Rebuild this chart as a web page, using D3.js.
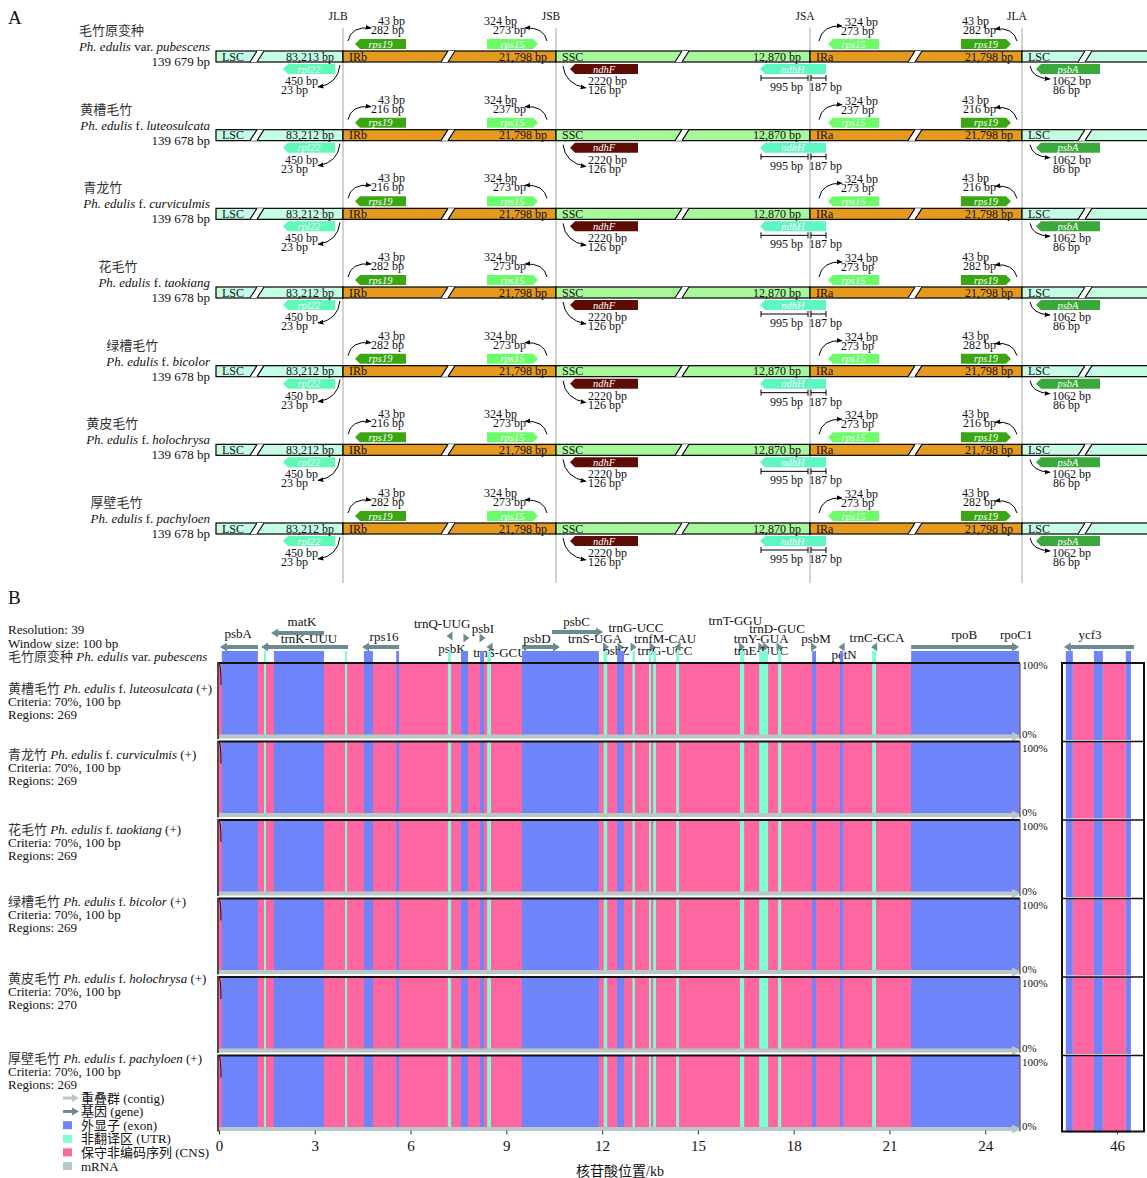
<!DOCTYPE html>
<html><head><meta charset="utf-8">
<script src="https://cdn.jsdelivr.net/npm/d3@7"></script>
<style>
body{margin:0;background:#fff}
svg{display:block}
text{font-family:"Liberation Serif","Noto Sans CJK SC",serif;fill:#111}
</style>
</head><body><svg id="c" width="1147" height="1178"></svg>
<script>
// ================= DATA: Panel A =================
const speciesCN = ["毛竹原变种","黄槽毛竹","青龙竹","花毛竹","绿槽毛竹","黄皮毛竹","厚壁毛竹"];
const speciesGenus = ["Ph. edulis","Ph. edulis","Ph. edulis","Ph. edulis","Ph. edulis","Ph. edulis","Ph. edulis"];
const speciesRank = ["var.","f.","f.","f.","f.","f.","f."];
const speciesEpithet = ["pubescens","luteosulcata","curviculmis","taokiang","bicolor","holochrysa","pachyloen"];
const genomeSize = ["139 679 bp","139 678 bp","139 678 bp","139 678 bp","139 678 bp","139 678 bp","139 678 bp"];
const lscSize = ["83,213 bp","83,212 bp","83,212 bp","83,212 bp","83,212 bp","83,212 bp","83,212 bp"];
const irSize  = ["21,798 bp","21,798 bp","21,798 bp","21,798 bp","21,798 bp","21,798 bp","21,798 bp"];
const sscSize = ["12,870 bp","12,870 bp","12,870 bp","12,870 bp","12,870 bp","12,870 bp","12,870 bp"];
const regionNames = ["LSC","IRb","SSC","IRa","LSC"];
const junctionNames = ["JLB","JSB","JSA","JLA"];
const rps19Out = [43,43,43,43,43,43,43];
const rps19In  = [282,216,216,282,282,216,282];
const rps15Out = [324,324,324,324,324,324,324];
const rps15In  = [273,237,273,273,273,273,273];
const rpl22Len = [450,450,450,450,450,450,450];
const rpl22Gap = [23,23,23,23,23,23,23];
const ndhFLen  = [2220,2220,2220,2220,2220,2220,2220];
const ndhFGap  = [126,126,126,126,126,126,126];
const ndhHSSC  = [995,995,995,995,995,995,995];
const ndhHIR   = [187,187,187,187,187,187,187];
const psbALen  = [1062,1062,1062,1062,1062,1062,1062];
const psbAGap  = [86,86,86,86,86,86,86];

// ================= DATA: Panel B =================
const trackRegions = [269,269,269,269,270,269];
const exonStart = [0.09,1.72,4.54,5.55,7.58,8.18,9.49,12.47,18.58,19.45,21.68];
const exonEnd   = [1.22,3.29,4.82,5.64,7.80,8.30,11.90,12.69,18.70,19.55,25.06];
const utrStart  = [1.41,3.95,7.17,8.40,12.05,12.95,13.47,13.60,14.32,16.32,16.92,17.51,20.46];
const utrEnd    = [1.47,4.01,7.27,8.52,12.16,13.03,13.53,13.69,14.41,16.45,17.20,17.61,20.58];
const cnsStart  = [0];
const cnsEnd    = [25.09];
const geneNames  = ["psbA","matK","trnK-UUU","rps16","trnQ-UUG","psbK","psbI","trnS-GCU","psbD","psbC","trnS-UGA","psbZ","trnG-UCC","trnG-UCC","trnfM-CAU","trnT-GGU","trnY-GUA","trnE-UUC","trnD-GUC","psbM","petN","trnC-GCA","rpoB","rpoC1"];
const geneStart  = [0.03,1.63,1.32,4.48,7.17,7.61,8.18,8.43,9.49,10.43,12.09,12.47,12.94,13.47,14.32,16.32,16.92,17.07,17.51,18.58,19.45,20.46,21.68,25.06];
const geneEnd    = [1.22,3.29,4.04,5.64,7.27,7.89,8.33,8.52,10.68,12.03,12.16,12.69,13.03,13.69,14.41,16.45,17.05,17.20,17.61,18.70,19.55,20.58,25.06,25.06];
const geneStrand = ["-","-","-","-","-","+","+","-","+","+","+","+","+","+","-","+","+","+","+","+","-","-","+","+"];
const geneLabelKb= [0.6,2.6,2.82,5.17,6.99,7.3,8.27,8.8,9.96,11.2,11.78,12.44,13.06,13.97,13.97,16.17,16.98,16.98,17.48,18.7,19.58,20.61,23.34,24.97];
// second panel (ycf3)
const ycf3ExonStart = [44.40,45.28,46.28];
const ycf3ExonEnd   = [44.62,45.56,46.44];
const ycf3CnsStart  = [44.62,45.56];
const ycf3CnsEnd    = [45.28,46.28];
const ycf3Gene = {name:"ycf3", start:44.34, end:46.54, strand:"-", labelKb:45.16};
const xTicksMain = [0,3,6,9,12,15,18,21,24];
const xTicksSecond = [46];
const legendLabels = ["重叠群 (contig)","基因 (gene)","外显子 (exon)","非翻译区 (UTR)","保守非编码序列 (CNS)","mRNA"];

// ================= STYLE / LAYOUT =================
const C = {
  lsc:"#c4fde4", ir:"#e39a1e", ssc:"#a8f79b",
  rps19:"#3aa614", rps15:"#6cfc6a", rpl22:"#5ffab8", ndhF:"#5e0d05", ndhH:"#5ef7c0", psbA:"#3aa83a",
  exon:"#6e84fb", cns:"#fd66a0", utr:"#80fcd3", contig:"#b9c7c6", gene:"#6b8b93", mrna:"#b7cac7"
};
const svg = d3.select("#c");
const defs = svg.append("defs");
defs.append("marker").attr("id","ah").attr("viewBox","0 0 10 10").attr("refX",9).attr("refY",5)
  .attr("markerWidth",6).attr("markerHeight",6).attr("markerUnits","userSpaceOnUse").attr("orient","auto")
  .append("path").attr("d","M0,1 L10,5 L0,9 Z").attr("fill","#000");

// ---------- Panel A ----------
svg.append("text").attr("x",8).attr("y",24).attr("font-size",19).text("A");
const yA = d3.scaleLinear().domain([0,6]).range([51,523]);
const barH = 11;
const bounds = [0,127,340,594,806,940];
const xA = d3.scaleLinear().domain([0,931]).range([216,1147]);
const regionColors = [C.lsc,C.ir,C.ssc,C.ir,C.lsc];
const jx = [1,2,3,4].map(k=>xA(bounds[k]));
const hatchU = [34,225,459,692,862];

const gA = svg.append("g");
jx.forEach((x,k)=>{
  gA.append("line").attr("x1",x).attr("x2",x).attr("y1",28).attr("y2",583).attr("stroke","#b4b4b4").attr("stroke-width",1.2);
  gA.append("text").attr("x",x-5).attr("y",20).attr("text-anchor","middle").attr("font-size",11.5).text(junctionNames[k]);
});

function pent(x0,x1,y0,h,dir){
  const p=5;
  if(dir==="L") return `M${x0},${y0+h/2}L${x0+p},${y0}L${x1},${y0}L${x1},${y0+h}L${x0+p},${y0+h}Z`;
  return `M${x0},${y0}L${x1-p},${y0}L${x1},${y0+h/2}L${x1-p},${y0+h}L${x0},${y0+h}Z`;
}
function geneA(g,x0,x1,y0,dir,fill,name){
  g.append("path").attr("d",pent(x0,x1,y0,10,dir)).attr("fill",fill);
  g.append("text").attr("x",(x0+x1)/2).attr("y",y0+8.5).attr("text-anchor","middle")
    .attr("font-size",10.5).attr("font-style","italic").style("fill","#fff").text(name);
}
function lbl(g,x,y,t){ g.append("text").attr("x",x).attr("y",y).attr("font-size",12).text(t); }
function curve(g,d){ g.append("path").attr("d",d).attr("fill","none").attr("stroke","#000").attr("stroke-width",1).attr("marker-end","url(#ah)"); }

speciesCN.forEach((cn,i)=>{
  const bt = yA(i), bb = bt+barH;
  const g = svg.append("g");
  const lt = g.append("text").attr("x",210).attr("y",bt).attr("text-anchor","end").attr("font-size",13);
  lt.append("tspan").attr("font-style","italic").text(speciesGenus[i]+" ");
  lt.append("tspan").text(speciesRank[i]+" ");
  lt.append("tspan").attr("font-style","italic").text(speciesEpithet[i]);
  const lw = lt.node().getComputedTextLength();
  g.append("text").attr("x",210-lw).attr("y",bt-16).attr("font-size",13).style("fill","#333").text(cn);
  g.append("text").attr("x",210).attr("y",bt+15).attr("text-anchor","end").attr("font-size",13).text(genomeSize[i]);
  regionNames.forEach((r,k)=>{
    g.append("rect").attr("x",xA(bounds[k])).attr("y",bt).attr("width",xA(bounds[k+1])-xA(bounds[k])).attr("height",barH)
      .attr("fill",regionColors[k]).attr("stroke","#000").attr("stroke-width",1.2);
    const hx = xA(hatchU[k]);
    g.append("path").attr("d",`M${hx},${bb}L${hx+7},${bt}L${hx+14},${bt}L${hx+7},${bb}Z`).attr("fill","#fff");
    g.append("path").attr("d",`M${hx},${bb}L${hx+7},${bt}M${hx+7},${bb}L${hx+14},${bt}`).attr("stroke","#000").attr("stroke-width",1.1);
    g.append("text").attr("x",xA(bounds[k])+6).attr("y",bt+9.5).attr("font-size",12).text(r);
  });
  const sizes=[lscSize[i],irSize[i],sscSize[i],irSize[i]];
  sizes.forEach((s,k)=>{
    g.append("text").attr("x",xA(bounds[k+1])-9).attr("y",bt+9.5).attr("text-anchor","end").attr("font-size",12).text(s);
  });
  geneA(g,jx[0]+12,jx[0]+63,bt-12,"L",C.rps19,"rps19");
  geneA(g,jx[1]-69,jx[1]-18,bt-12,"R",C.rps15,"rps15");
  geneA(g,jx[2]+18,jx[2]+69,bt-12,"L",C.rps15,"rps15");
  geneA(g,jx[3]-61,jx[3]-11,bt-12,"R",C.rps19,"rps19");
  geneA(g,jx[0]-60,jx[0]-8,bb+2,"L",C.rpl22,"rpl22");
  geneA(g,jx[1]+14,jx[1]+82,bb+2,"L",C.ndhF,"ndhF");
  geneA(g,jx[2]-50,jx[2]+16,bb+2,"L",C.ndhH,"ndhH");
  geneA(g,jx[3]+14,jx[3]+78,bb+2,"L",C.psbA,"psbA");
  curve(g,`M${jx[0]+5},${bt-10}Q${jx[0]+8},${bt-25} ${jx[0]+28},${bt-23}`);
  lbl(g,jx[0]+35,bt-26,rps19Out[i]+" bp"); lbl(g,jx[0]+28,bt-17,rps19In[i]+" bp");
  curve(g,`M${jx[1]-9},${bt-10}Q${jx[1]-12},${bt-24} ${jx[1]-31},${bt-23}`);
  lbl(g,jx[1]-72,bt-26,rps15Out[i]+" bp"); lbl(g,jx[1]-63,bt-17,rps15In[i]+" bp");
  curve(g,`M${jx[2]+9},${bt-10}Q${jx[2]+12},${bt-26} ${jx[2]+32},${bt-25}`);
  lbl(g,jx[2]+35,bt-25,rps15Out[i]+" bp"); lbl(g,jx[2]+31,bt-16,rps15In[i]+" bp");
  curve(g,`M${jx[3]-5},${bt-10}Q${jx[3]-9},${bt-24} ${jx[3]-27},${bt-22}`);
  lbl(g,jx[3]-60,bt-26,rps19Out[i]+" bp"); lbl(g,jx[3]-59,bt-17,rps19In[i]+" bp");
  curve(g,`M${jx[0]-3},${bb+3}Q${jx[0]-5},${bb+22} ${jx[0]-25},${bb+25}`);
  lbl(g,jx[0]-58,bb+23,rpl22Len[i]+" bp"); lbl(g,jx[0]-62,bb+32,rpl22Gap[i]+" bp");
  curve(g,`M${jx[1]+7},${bb+4}Q${jx[1]+9},${bb+22} ${jx[1]+30},${bb+26}`);
  lbl(g,jx[1]+32,bb+23,ndhFLen[i]+" bp"); lbl(g,jx[1]+32,bb+32,ndhFGap[i]+" bp");
  const by = bb+16;
  g.append("path").attr("d",`M${jx[2]-49},${by}H${jx[2]-2}M${jx[2]+1},${by}H${jx[2]+16}M${jx[2]-49},${by-3}V${by+3}M${jx[2]-2},${by-3}V${by+3}M${jx[2]+1},${by-3}V${by+3}M${jx[2]+16},${by-3}V${by+3}`)
    .attr("stroke","#000").attr("stroke-width",1).attr("fill","none");
  lbl(g,jx[2]-40,bb+29,ndhHSSC[i]+" bp"); lbl(g,jx[2]-1,bb+29,ndhHIR[i]+" bp");
  curve(g,`M${jx[3]+8},${bb+4}Q${jx[3]+10},${bb+16} ${jx[3]+28},${bb+17}`);
  lbl(g,jx[3]+30,bb+23,psbALen[i]+" bp"); lbl(g,jx[3]+31,bb+32,psbAGap[i]+" bp");
});

// ---------- Panel B ----------
svg.append("text").attr("x",8).attr("y",604).attr("font-size",19).text("B");
const xB = d3.scaleLinear().domain([0,25.09]).range([219,1020]);
const xB2 = d3.scaleLinear().domain([44.28,46.85]).range([1062,1144]);
const yB = d3.scaleLinear().domain([0,6]).range([663,663+6*78.5]);
const trackH = 73;
const nTracks = 6;
const gB = svg.append("g");

gB.append("text").attr("x",8).attr("y",634).attr("font-size",13).text("Resolution: 39");
gB.append("text").attr("x",8).attr("y",648).attr("font-size",13).text("Window size: 100 bp");
function speciesLine(g,x,y,i,suffix){
  const t = g.append("text").attr("x",x).attr("y",y).attr("font-size",13);
  t.append("tspan").style("fill","#333").text(speciesCN[i]+(i===0?"  ":" "));
  t.append("tspan").attr("font-style","italic").text(speciesGenus[i]+" ");
  t.append("tspan").text(speciesRank[i]+" ");
  t.append("tspan").attr("font-style","italic").text(speciesEpithet[i]);
  if(suffix) t.append("tspan").text(" "+suffix);
}
speciesLine(gB,8,661,0,"");

function arrowPath(x0,x1,y,strand){
  const len = x1-x0;
  if(len < 9){
    const w=6, cx=(x0+x1)/2;
    return strand==="+" ? `M${cx-w/2},${y-4.5}L${cx+w/2},${y}L${cx-w/2},${y+4.5}Z`
                        : `M${cx+w/2},${y-4.5}L${cx-w/2},${y}L${cx+w/2},${y+4.5}Z`;
  }
  const h=7, s=2, hw=4.5;
  if(strand==="+") return `M${x0},${y-s}L${x1-h},${y-s}L${x1-h},${y-hw}L${x1},${y}L${x1-h},${y+hw}L${x1-h},${y+s}L${x0},${y+s}Z`;
  return `M${x1},${y-s}L${x0+h},${y-s}L${x0+h},${y-hw}L${x0},${y}L${x0+h},${y+hw}L${x0+h},${y+s}L${x1},${y+s}Z`;
}
const arrowLevel = {"matK":633,"psbC":632,"trnQ-UUG":636,"psbK":638,"psbI":638};
const labelLevel = [633,621,638,636,623,648,628,652,638,621,638,650,627,650,638,620,638,650,628,638,654,637,634,634];
geneNames.forEach((n,k)=>{
  const x0=xB(geneStart[k]), x1=xB(geneEnd[k]);
  const ay = arrowLevel[n] || 647;
  if(geneEnd[k]>geneStart[k])
    gB.append("path").attr("d",arrowPath(x0,x1,ay,geneStrand[k])).attr("fill",C.gene);
  gB.append("text").attr("x",xB(geneLabelKb[k])).attr("y",labelLevel[k]+4.5).attr("text-anchor","middle").attr("font-size",13).text(n);
});
gB.append("path").attr("d",arrowPath(xB2(ycf3Gene.start),xB2(ycf3Gene.end),647,ycf3Gene.strand)).attr("fill",C.gene);
gB.append("text").attr("x",xB2(ycf3Gene.labelKb)).attr("y",638.5).attr("text-anchor","middle").attr("font-size",13).text(ycf3Gene.name);

const featTop = 651, featH = 11;
exonStart.forEach((s,k)=>gB.append("rect").attr("x",xB(s)).attr("y",featTop).attr("width",xB(exonEnd[k])-xB(s)).attr("height",featH).attr("fill",C.exon));
utrStart.forEach((s,k)=>gB.append("rect").attr("x",xB(s)).attr("y",featTop).attr("width",Math.max(2,xB(utrEnd[k])-xB(s))).attr("height",featH).attr("fill",C.utr));
ycf3ExonStart.forEach((s,k)=>gB.append("rect").attr("x",xB2(s)).attr("y",featTop).attr("width",xB2(ycf3ExonEnd[k])-xB2(s)).attr("height",featH).attr("fill",C.exon));

const labelTopY = [693,759,834,906,983,1063];
d3.range(nTracks).forEach(i=>{
  const top = yB(i);
  const g = gB.append("g");
  cnsStart.forEach((s,k)=>g.append("rect").attr("x",xB(s)).attr("y",top).attr("width",xB(cnsEnd[k])-xB(s)).attr("height",trackH).attr("fill",C.cns));
  exonStart.forEach((s,k)=>g.append("rect").attr("x",xB(s)).attr("y",top).attr("width",xB(exonEnd[k])-xB(s)).attr("height",trackH).attr("fill",C.exon));
  utrStart.forEach((s,k)=>g.append("rect").attr("x",xB(s)).attr("y",top).attr("width",Math.max(2,xB(utrEnd[k])-xB(s))).attr("height",trackH).attr("fill",C.utr));
  ycf3CnsStart.forEach((s,k)=>g.append("rect").attr("x",xB2(s)).attr("y",top).attr("width",xB2(ycf3CnsEnd[k])-xB2(s)).attr("height",trackH+4).attr("fill",C.cns));
  ycf3ExonStart.forEach((s,k)=>g.append("rect").attr("x",xB2(s)).attr("y",top).attr("width",xB2(ycf3ExonEnd[k])-xB2(s)).attr("height",trackH+4).attr("fill",C.exon));
  g.append("path").attr("d",`M${xB(0)},${top+trackH-1.5}H${xB(25.09)-8}V${top+trackH-4}L${xB(25.09)+2},${top+trackH+0.5}L${xB(25.09)-8},${top+trackH+5}V${top+trackH+2.5}H${xB(0)}Z`).attr("fill",C.contig);
  g.append("line").attr("x1",xB(0)).attr("x2",xB(25.09)).attr("y1",top).attr("y2",top).attr("stroke","#111").attr("stroke-width",2);
  g.append("line").attr("x1",xB(0)-1).attr("x2",xB(0)-1).attr("y1",top-1).attr("y2",top+trackH+3).attr("stroke","#111").attr("stroke-width",1.5);
  g.append("path").attr("d",`M${xB(0)},${top}Q${xB(0)+2},${top+3} ${xB(0)+2},${top+22}`).attr("stroke","#111").attr("fill","none").attr("stroke-width",1);
  g.append("line").attr("x1",xB(25.09)).attr("x2",xB(25.09)).attr("y1",top).attr("y2",top+trackH+3).attr("stroke","#555").attr("stroke-width",1.2);
  g.append("line").attr("x1",xB2.range()[0]).attr("x2",xB2.range()[1]).attr("y1",top).attr("y2",top).attr("stroke","#111").attr("stroke-width",1.5);
  g.append("text").attr("x",1022).attr("y",i===0?top+6:top+10).attr("font-size",11).text("100%");
  g.append("text").attr("x",1022).attr("y",top+trackH+1.5).attr("font-size",11).text("0%");
  const ly = labelTopY[i];
  speciesLine(g,8,ly,i+1,"(+)");
  g.append("text").attr("x",8).attr("y",ly+13).attr("font-size",13).text("Criteria: 70%, 100 bp");
  g.append("text").attr("x",8).attr("y",ly+26).attr("font-size",13).text("Regions: "+trackRegions[i]);
});
gB.append("rect").attr("x",xB2.range()[0]).attr("y",yB(0)).attr("width",xB2.range()[1]-xB2.range()[0]).attr("height",yB(5)+trackH+3-yB(0))
  .attr("fill","none").attr("stroke","#111").attr("stroke-width",2);

const axY = yB(5)+trackH+2;
const ax1 = gB.append("g").attr("transform",`translate(0,${axY})`).call(d3.axisBottom(xB).tickValues(xTicksMain).tickFormat(d3.format("d")).tickSize(4).tickPadding(6));
const ax2 = gB.append("g").attr("transform",`translate(0,${axY})`).call(d3.axisBottom(xB2).tickValues(xTicksSecond).tickFormat(d3.format("d")).tickSize(4).tickPadding(6));
[ax1,ax2].forEach(a=>{
  a.select(".domain").remove();
  a.selectAll("text").attr("font-size",15).attr("font-family","Liberation Serif, serif").style("fill","#111");
  a.selectAll("line").attr("stroke","#333");
});
gB.append("text").attr("x",620).attr("y",1176).attr("text-anchor","middle").attr("font-size",14).text("核苷酸位置/kb");

const legY0 = 1098, legDy = 13.6;
const lg = gB.append("g");
legendLabels.forEach((t,k)=>{
  const y = legY0 + k*legDy;
  if(k===0) lg.append("path").attr("d",`M63,${y-1.5}H72V${y-4}L79,${y}L72,${y+4}V${y+1.5}H63Z`).attr("fill",C.contig);
  else if(k===1) lg.append("path").attr("d",`M63,${y-1.5}H72V${y-4}L79,${y}L72,${y+4}V${y+1.5}H63Z`).attr("fill",C.gene);
  else {
    const col = [null,null,C.exon,C.utr,C.cns,C.mrna][k];
    lg.append("rect").attr("x",63).attr("y",y-4).attr("width",9).attr("height",8).attr("fill",col);
  }
  lg.append("text").attr("x",81).attr("y",y+4.5).attr("font-size",13).text(t);
});
</script>
</body></html>
